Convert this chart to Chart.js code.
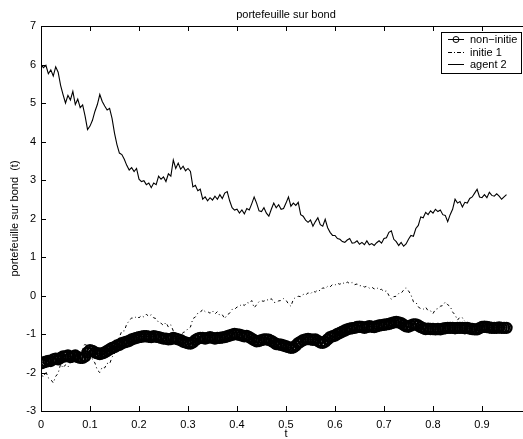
<!DOCTYPE html>
<html>
<head>
<meta charset="utf-8">
<script src="https://cdn.jsdelivr.net/npm/chart.js@4"></script>
<style>
  html, body { margin: 0; padding: 0; background: #fff; overflow: hidden; }
  #wrap { width: 545px; height: 439px; }
</style>
</head>
<body>
<div id="wrap"><canvas id="bondChart" width="545" height="439"></canvas></div>
<script>
// time step of the sampled series
const dt = 0.005;

const xTicks = [0, 0.1, 0.2, 0.3, 0.4, 0.5, 0.6, 0.7, 0.8, 0.9, 1];
const yTicks = [-3, -2, -1, 0, 1, 2, 3, 4, 5, 6, 7];

const seriesNames = ["non\u2212initie", "initie 1", "agent 2"];

// non-initie (thick circle band)
const nonInitie = [
  -1.76, -1.74, -1.72, -1.70, -1.70, -1.66, -1.64, -1.66, -1.62, -1.58,
  -1.58, -1.56, -1.60, -1.58, -1.56, -1.60, -1.62, -1.62, -1.58, -1.48,
  -1.42, -1.44, -1.48, -1.50, -1.52, -1.50, -1.48, -1.44, -1.40, -1.36,
  -1.34, -1.30, -1.28, -1.24, -1.22, -1.20, -1.18, -1.14, -1.12, -1.10,
  -1.08, -1.07, -1.06, -1.06, -1.07, -1.08, -1.06, -1.07, -1.08, -1.10,
  -1.12, -1.12, -1.14, -1.13, -1.10, -1.12, -1.14, -1.16, -1.20, -1.22,
  -1.24, -1.25, -1.22, -1.16, -1.12, -1.10, -1.10, -1.12, -1.10, -1.08,
  -1.10, -1.12, -1.10, -1.10, -1.09, -1.08, -1.06, -1.04, -1.02, -1.00,
  -1.01, -1.02, -1.04, -1.06, -1.05, -1.08, -1.12, -1.16, -1.19, -1.18,
  -1.16, -1.14, -1.14, -1.15, -1.18, -1.22, -1.26, -1.27, -1.28, -1.30,
  -1.32, -1.34, -1.36, -1.35, -1.30, -1.24, -1.20, -1.16, -1.14, -1.13,
  -1.14, -1.15, -1.14, -1.18, -1.22, -1.23, -1.20, -1.14, -1.08, -1.06,
  -1.04, -1.00, -0.97, -0.94, -0.91, -0.88, -0.86, -0.85, -0.84, -0.82,
  -0.81, -0.82, -0.84, -0.82, -0.80, -0.81, -0.82, -0.80, -0.78, -0.77,
  -0.76, -0.75, -0.74, -0.72, -0.70, -0.69, -0.70, -0.72, -0.76, -0.80,
  -0.81, -0.78, -0.75, -0.75, -0.78, -0.82, -0.85, -0.87, -0.86, -0.87,
  -0.87, -0.88, -0.87, -0.88, -0.86, -0.85, -0.84, -0.84, -0.84, -0.85,
  -0.84, -0.84, -0.84, -0.85, -0.84, -0.86, -0.87, -0.88, -0.88, -0.85,
  -0.82, -0.81, -0.82, -0.83, -0.84, -0.84, -0.84, -0.83, -0.84, -0.84,
  -0.84
];

// initie 1 (dash-dot)
const initie1 = [
  -2.05, -2.12, -1.98, -2.14, -2.18, -2.27, -2.10, -2.02, -1.78, -1.88,
  -1.80, -1.86, -1.74, -1.74, -1.64, -1.66, -1.56, -1.40, -1.23, -1.38,
  -1.45, -1.66, -1.75, -1.94, -2.00, -1.86, -1.88, -1.76, -1.78, -1.60,
  -1.52, -1.18, -1.08, -0.92, -0.92, -0.74, -0.66, -0.58, -0.60, -0.54,
  -0.58, -0.52, -0.56, -0.49, -0.54, -0.50, -0.58, -0.60, -0.70, -0.72,
  -0.78, -0.70, -0.82, -0.76, -0.92, -1.06, -0.98, -1.06, -0.96, -0.94,
  -0.86, -0.82, -0.60, -0.56, -0.46, -0.44, -0.36, -0.42, -0.42, -0.46,
  -0.40, -0.48, -0.42, -0.52, -0.50, -0.60, -0.50, -0.46, -0.36, -0.36,
  -0.30, -0.28, -0.22, -0.26, -0.18, -0.20, -0.13, -0.32, -0.24, -0.16,
  -0.14, -0.15, -0.10, -0.13, -0.08, -0.18, -0.18, -0.14, -0.13, -0.08,
  -0.12, -0.22, -0.28, -0.10, -0.04, -0.02, -0.03, 0.03, 0.01, 0.07,
  0.04, 0.11, 0.09, 0.15, 0.12, 0.20, 0.18, 0.24, 0.22, 0.29,
  0.27, 0.32, 0.29, 0.34, 0.30, 0.35, 0.31, 0.34, 0.28, 0.30,
  0.25, 0.26, 0.22, 0.24, 0.19, 0.22, 0.17, 0.21, 0.15, 0.16,
  0.10, 0.12, 0.00, -0.10, -0.03, -0.02, 0.05, 0.06, 0.14, 0.20,
  0.12, 0.02, -0.16, -0.17, -0.30, -0.34, -0.36, -0.30, -0.40, -0.40,
  -0.47, -0.36, -0.34, -0.28, -0.26, -0.17, -0.24, -0.28, -0.43, -0.50,
  -0.64, -0.56, -0.58, -0.67
];

// agent 2 (solid)
const agent2 = [
  6.00, 5.92, 5.98, 5.76, 5.86, 5.70, 5.94, 5.80, 5.46, 5.22,
  5.00, 5.20, 5.08, 5.30, 4.96, 5.10, 4.88, 4.95, 4.66, 4.31,
  4.40, 4.55, 4.78, 4.96, 5.22, 5.04, 4.92, 4.82, 4.86, 4.60,
  4.22, 3.92, 3.70, 3.66, 3.54, 3.38, 3.26, 3.32, 3.22, 3.30,
  3.02, 2.96, 2.98, 2.88, 2.92, 2.80, 2.92, 2.88, 3.10, 3.02,
  3.08, 2.96, 3.16, 3.10, 3.52, 3.30, 3.44, 3.28, 3.36, 3.24,
  3.30, 3.22, 2.82, 2.86, 2.72, 2.76, 2.50, 2.56, 2.46, 2.54,
  2.48, 2.58, 2.50, 2.62, 2.52, 2.66, 2.70, 2.46, 2.28, 2.22,
  2.24, 2.14, 2.22, 2.12, 2.26, 2.22, 2.38, 2.56, 2.40, 2.20,
  2.18, 2.28, 2.14, 2.06, 2.24, 2.40, 2.28, 2.36, 2.24, 2.26,
  2.40, 2.56, 2.32, 2.40, 2.34, 2.42, 2.10, 2.06, 1.96, 1.90,
  1.96, 1.80, 1.92, 2.02, 1.84, 1.80, 1.98, 1.76, 1.64, 1.56,
  1.56, 1.48, 1.46, 1.40, 1.38, 1.44, 1.48, 1.36, 1.37, 1.42,
  1.33, 1.38, 1.32, 1.42, 1.32, 1.35, 1.30, 1.37, 1.42, 1.36,
  1.48, 1.50, 1.64, 1.68, 1.46, 1.40, 1.30, 1.38, 1.28, 1.34,
  1.46, 1.56, 1.54, 1.74, 1.82, 2.04, 2.02, 2.16, 2.10, 2.20,
  2.14, 2.24, 2.18, 2.22, 2.10, 2.08, 1.92, 2.10, 2.24, 2.50,
  2.40, 2.44, 2.30, 2.42, 2.40, 2.52, 2.56, 2.66, 2.76, 2.56,
  2.54, 2.62, 2.54, 2.68, 2.60, 2.58, 2.64, 2.58, 2.50, 2.56,
  2.62
];

function toPoints(values) {
  return values.map((v, i) => ({ x: +(i * dt).toFixed(3), y: v }));
}

const FONT = "'Liberation Sans', Arial, Helvetica, sans-serif";

// ticks pointing inward, frame, title, axis labels and legend box
const matlabAxes = {
  id: "matlabAxes",
  afterDraw(chart) {
    const ctx = chart.ctx;
    const area = chart.chartArea;
    const xs = chart.scales.x;
    const ys = chart.scales.y;
    ctx.save();
    ctx.strokeStyle = "#000";
    ctx.lineWidth = 1;
    ctx.strokeRect(Math.round(area.left) + 0.5, Math.round(area.top) + 0.5,
      Math.round(area.right - area.left), Math.round(area.bottom - area.top));
    ctx.beginPath();
    xTicks.forEach(v => {
      const px = Math.round(xs.getPixelForValue(v)) + 0.5;
      ctx.moveTo(px, area.bottom); ctx.lineTo(px, area.bottom - 5);
      ctx.moveTo(px, area.top); ctx.lineTo(px, area.top + 5);
    });
    yTicks.forEach(v => {
      const py = Math.round(ys.getPixelForValue(v)) + 0.5;
      ctx.moveTo(area.left, py); ctx.lineTo(area.left + 5, py);
      ctx.moveTo(area.right, py); ctx.lineTo(area.right - 5, py);
    });
    ctx.stroke();

    ctx.fillStyle = "#000";
    ctx.font = "11px " + FONT;
    ctx.textAlign = "center";
    ctx.textBaseline = "middle";
    const cx = (area.left + area.right) / 2;
    ctx.fillText("portefeuille sur bond", cx, 15);
    ctx.fillText("t", cx, 434);
    ctx.save();
    ctx.translate(15, (area.top + area.bottom) / 2);
    ctx.rotate(-Math.PI / 2);
    ctx.fillText("portefeuille sur bond  (t)", 0, 0);
    ctx.restore();

    // legend
    const lx = 441, ly = 32, lw = 80, lh = 41;
    ctx.fillStyle = "#fff";
    ctx.fillRect(lx, ly, lw, lh);
    ctx.strokeRect(lx + 0.5, ly + 0.5, lw, lh);
    const rows = [39, 52, 64];
    ctx.textAlign = "left";
    ctx.fillStyle = "#000";
    rows.forEach((ry, i) => {
      ctx.beginPath();
      if (i === 1) ctx.setLineDash([4, 2, 1, 2]); else ctx.setLineDash([]);
      ctx.moveTo(448, ry + 0.5); ctx.lineTo(464, ry + 0.5);
      ctx.stroke();
      ctx.setLineDash([]);
      if (i === 0) {
        ctx.beginPath();
        ctx.arc(456, ry + 0.5, 3, 0, Math.PI * 2);
        ctx.stroke();
      }
      ctx.fillText(seriesNames[i], 470, ry + 0.5);
    });
    ctx.restore();
  }
};

const chart = new Chart(document.getElementById("bondChart").getContext("2d"), {
  type: "line",
  data: {
    datasets: [
      {
        label: seriesNames[2],
        data: toPoints(agent2),
        borderColor: "#000",
        borderWidth: 1.1,
        pointRadius: 0,
        tension: 0,
        order: 0
      },
      {
        label: seriesNames[1],
        data: toPoints(initie1),
        borderColor: "#000",
        borderWidth: 1,
        borderDash: [3, 3, 1, 3],
        pointRadius: 0,
        tension: 0,
        order: 1
      },
      {
        label: seriesNames[0],
        data: toPoints(nonInitie),
        borderColor: "#000",
        borderWidth: 1,
        pointRadius: 5,
        pointBorderWidth: 2.4,
        pointBorderColor: "#000",
        pointBackgroundColor: "rgba(0,0,0,0)",
        tension: 0,
        order: 2
      }
    ]
  },
  options: {
    responsive: false,
    animation: false,
    layout: { padding: { top: 26, right: 14, left: 0, bottom: 0 } },
    plugins: {
      legend: { display: false },
      title: { display: false },
      tooltip: { enabled: false }
    },
    scales: {
      x: {
        type: "linear",
        min: 0,
        max: 1,
        afterBuildTicks: s => { s.ticks = xTicks.map(v => ({ value: v })); },
        afterFit: s => { s.height = 28; },
        grid: { display: false, drawTicks: false },
        border: { display: false },
        ticks: {
          color: "#000",
          padding: 7,
          maxRotation: 0,
          autoSkip: false,
          font: { family: FONT, size: 11 },
          callback: v => String(v)
        }
      },
      y: {
        type: "linear",
        min: -3,
        max: 7,
        afterBuildTicks: s => { s.ticks = yTicks.map(v => ({ value: v })); },
        afterFit: s => { s.width = 41; },
        grid: { display: false, drawTicks: false },
        border: { display: false },
        ticks: {
          color: "#000",
          padding: 5,
          autoSkip: false,
          font: { family: FONT, size: 11 },
          callback: v => String(v)
        }
      }
    }
  },
  plugins: [matlabAxes]
});
</script>
</body>
</html>
